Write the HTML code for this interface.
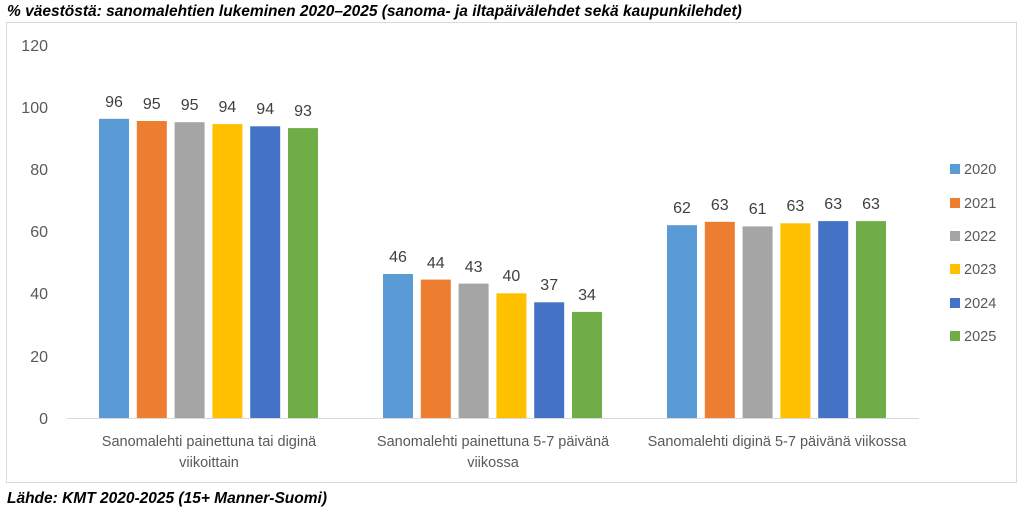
<!DOCTYPE html>
<html><head><meta charset="utf-8"><style>
body{margin:0;background:#fff;width:1024px;height:509px;overflow:hidden}
svg text{font-family:"Liberation Sans",sans-serif}
</style></head><body>
<svg width="1024" height="509" xmlns="http://www.w3.org/2000/svg">
<text x="7" y="16" font-size="15.5" font-weight="bold" font-style="italic" fill="#000">% väestöstä: sanomalehtien lukeminen 2020–2025 (sanoma- ja iltapäivälehdet sekä kaupunkilehdet)</text>
<rect x="6.5" y="22.5" width="1010" height="460" fill="#fff" stroke="#d9d9d9"/>
<g font-size="16" fill="#595959" text-anchor="end">
<text x="48" y="51">120</text><text x="48" y="113">100</text><text x="48" y="175">80</text>
<text x="48" y="237">60</text><text x="48" y="299">40</text><text x="48" y="362">20</text><text x="48" y="424">0</text>
</g>
<line x1="67" y1="418.5" x2="919" y2="418.5" stroke="#d9d9d9"/>
<g>
<rect x="99" y="118.8" width="30" height="299.2" fill="#5b9bd5"/>
<rect x="136.8" y="121" width="30" height="297" fill="#ed7d31"/>
<rect x="174.6" y="122.2" width="30" height="295.8" fill="#a5a5a5"/>
<rect x="212.4" y="124.1" width="30" height="293.9" fill="#ffc000"/>
<rect x="250.2" y="126.3" width="30" height="291.7" fill="#4472c4"/>
<rect x="288" y="128.1" width="30" height="289.9" fill="#70ad47"/>
<rect x="383" y="274" width="30" height="144" fill="#5b9bd5"/>
<rect x="420.8" y="279.6" width="30" height="138.4" fill="#ed7d31"/>
<rect x="458.6" y="283.6" width="30" height="134.4" fill="#a5a5a5"/>
<rect x="496.4" y="293.3" width="30" height="124.7" fill="#ffc000"/>
<rect x="534.2" y="302.3" width="30" height="115.7" fill="#4472c4"/>
<rect x="572" y="311.9" width="30" height="106.1" fill="#70ad47"/>
<rect x="667" y="225.2" width="30" height="192.8" fill="#5b9bd5"/>
<rect x="704.8" y="221.8" width="30" height="196.2" fill="#ed7d31"/>
<rect x="742.6" y="226.4" width="30" height="191.6" fill="#a5a5a5"/>
<rect x="780.4" y="223.3" width="30" height="194.7" fill="#ffc000"/>
<rect x="818.2" y="221.1" width="30" height="196.9" fill="#4472c4"/>
<rect x="856" y="221.1" width="30" height="196.9" fill="#70ad47"/>
</g>
<g font-size="16" fill="#404040" text-anchor="middle">
<text x="114" y="107">96</text><text x="151.8" y="109">95</text><text x="189.6" y="110">95</text><text x="227.4" y="112">94</text><text x="265.2" y="114">94</text><text x="303" y="116">93</text>
<text x="398" y="262">46</text><text x="435.8" y="268">44</text><text x="473.6" y="272">43</text><text x="511.4" y="281">40</text><text x="549.2" y="290">37</text><text x="587" y="300">34</text>
<text x="682" y="213">62</text><text x="719.8" y="210">63</text><text x="757.6" y="214">61</text><text x="795.4" y="211">63</text><text x="833.2" y="209">63</text><text x="871" y="209">63</text>
</g>
<g font-size="14.5" fill="#595959" text-anchor="middle">
<text x="209" y="446">Sanomalehti painettuna tai diginä</text><text x="209" y="467">viikoittain</text>
<text x="493" y="446">Sanomalehti painettuna 5-7 päivänä</text><text x="493" y="467">viikossa</text>
<text x="777" y="446">Sanomalehti diginä 5-7 päivänä viikossa</text>
</g>
<g font-size="14.5" fill="#595959">
<rect x="950" y="164" width="10" height="10" fill="#5b9bd5"/><text x="964" y="174">2020</text>
<rect x="950" y="198" width="10" height="10" fill="#ed7d31"/><text x="964" y="208">2021</text>
<rect x="950" y="231" width="10" height="10" fill="#a5a5a5"/><text x="964" y="241">2022</text>
<rect x="950" y="264" width="10" height="10" fill="#ffc000"/><text x="964" y="274">2023</text>
<rect x="950" y="298" width="10" height="10" fill="#4472c4"/><text x="964" y="308">2024</text>
<rect x="950" y="331" width="10" height="10" fill="#70ad47"/><text x="964" y="341">2025</text>
</g>
<text x="7" y="503" font-size="15.5" font-weight="bold" font-style="italic" fill="#000">Lähde: KMT 2020-2025 (15+ Manner-Suomi)</text>
</svg>
</body></html>
